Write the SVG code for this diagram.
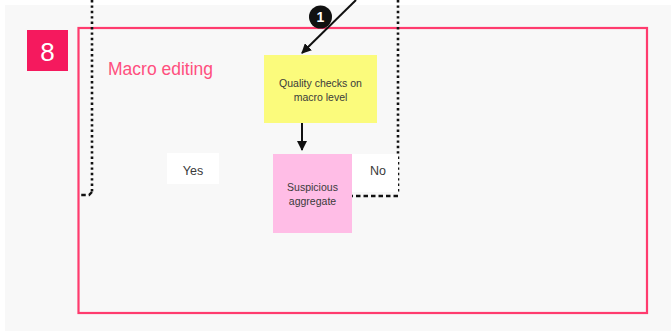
<svg xmlns="http://www.w3.org/2000/svg" width="671" height="331" viewBox="0 0 671 331">
<defs>
<style>
.lbl{font-family:"Liberation Sans",Arial,sans-serif;fill:#3a3a3a;text-anchor:middle}
.dot{fill:none;stroke:#111;stroke-width:2.6;stroke-dasharray:2.4 3}
.dash{fill:none;stroke:#111;stroke-width:2.4;stroke-dasharray:4.5 3}
.arr{fill:none;stroke:#111;stroke-width:2}
</style>
<marker id="ah" viewBox="0 0 10 10" refX="9" refY="5" markerWidth="5" markerHeight="5" orient="auto-start-reverse">
<path d="M0,0 L10,5 L0,10 z" fill="#111"/>
</marker>
</defs>
<rect x="0" y="0" width="671" height="331" fill="#ffffff"/>
<rect x="5" y="5" width="666" height="326" fill="#f8f8f8"/>

<g id="frame">
<rect x="78.5" y="28" width="568.5" height="285" fill="none" stroke="#ff3b6e" stroke-width="2.2"/>
<text x="108" y="75" font-family="'Liberation Sans',Arial,sans-serif" font-size="17.5" fill="#ff4f7e">Macro editing</text>
</g>

<g id="badge">
<rect x="27" y="30" width="41" height="41" fill="#f5195e"/>
<text x="47.5" y="61" font-family="'Liberation Sans',Arial,sans-serif" font-size="26" fill="#ffffff" text-anchor="middle">8</text>
</g>

<g id="connectors">
<path class="dot" d="M92,0 V192"/>
<path class="dash" d="M92,192 L89,195 H79"/>
<path class="dot" d="M398,0 V192"/>
<path class="dash" d="M398,196 H352"/>
<path class="arr" d="M302,123 V150" marker-end="url(#ah)"/>
<path class="arr" d="M356,0 L302,53" marker-end="url(#ah)"/>
</g>

<g id="step1">
<circle cx="320.5" cy="17" r="11.5" fill="#111"/>
<text x="320.5" y="22" font-family="'Liberation Sans',Arial,sans-serif" font-size="14" font-weight="bold" fill="#ffffff" text-anchor="middle">1</text>
</g>

<g id="quality">
<rect x="264" y="55" width="113" height="68" fill="#fbfb7c"/>
<text class="lbl" x="320.5" y="87" font-size="10.5">Quality checks on</text>
<text class="lbl" x="320.5" y="101" font-size="10.5">macro level</text>
</g>

<g id="suspicious">
<rect x="273" y="154" width="79" height="79" fill="#ffbde6"/>
<text class="lbl" x="312.5" y="191" font-size="10.5">Suspicious</text>
<text class="lbl" x="312.5" y="205" font-size="10.5">aggregate</text>
</g>

<g id="yes">
<rect x="167" y="153" width="52" height="31" fill="#ffffff"/>
<text class="lbl" x="193" y="174.5" font-size="12.5">Yes</text>
</g>

<g id="no">
<rect x="352" y="154" width="46" height="38" fill="#ffffff"/>
<text class="lbl" x="378" y="174.5" font-size="12.5">No</text>
</g>
</svg>
